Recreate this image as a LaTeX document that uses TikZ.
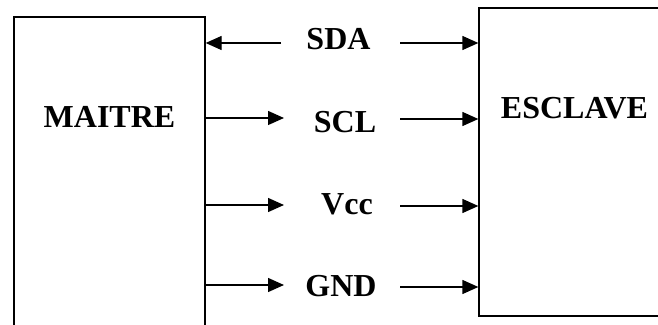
\documentclass[tikz,border=0pt]{standalone}
\usepackage{fontspec}
\setmainfont{Liberation Serif}
\usetikzlibrary{arrows.meta}
\tikzset{
  blockbox/.style={draw=black, line width=1.3pt, rectangle, inner sep=0pt},
  lbl/.style={font=\fontsize{32}{38}\selectfont\bfseries, inner sep=0pt, anchor=base},
  arr/.style={line width=1.3pt, -{Triangle[length=16pt,width=14pt]}},
}
\begin{document}
\begin{tikzpicture}[x=1pt,y=1pt]
\useasboundingbox (0,0) rectangle (658,324);
\clip (0,0) rectangle (658,324);
% boxes (cut off by the picture edge)
\node[blockbox, minimum width=191pt, minimum height=327pt] (maitre) at (109.5,143.5) {};
\node[blockbox, minimum width=221pt, minimum height=308pt] (esclave) at (589.5,162) {};
\node[lbl] (tm) at (109.5,196) {MAITRE};
\node[lbl] (te) at (574.5,205) {ESCLAVE};
% signal labels
\node[lbl] (sda) at (338.5,274) {SDA};
\node[lbl] (scl) at (345,191.5) {SCL};
\node[lbl] (vcc) at (347,109) {Vcc};
\node[lbl] (gnd) at (341,28) {GND};
% free ends
\coordinate (sdaL) at (281,281);
\coordinate (sclL) at (284,206);
\coordinate (vccL) at (284,119);
\coordinate (gndL) at (284,39);
\coordinate (sdaR) at (400,281);
\coordinate (sclR) at (400,205);
\coordinate (vccR) at (400,118);
\coordinate (gndR) at (400,37);
% connectors
\draw[arr] (sdaL) -- (maitre.east |- sdaL);
\draw[arr] (maitre.east |- sclL) -- (sclL);
\draw[arr] (maitre.east |- vccL) -- (vccL);
\draw[arr] (maitre.east |- gndL) -- (gndL);
\draw[arr] (sdaR) -- (esclave.west |- sdaR);
\draw[arr] (sclR) -- (esclave.west |- sclR);
\draw[arr] (vccR) -- (esclave.west |- vccR);
\draw[arr] (gndR) -- (esclave.west |- gndR);
\end{tikzpicture}
\end{document}
